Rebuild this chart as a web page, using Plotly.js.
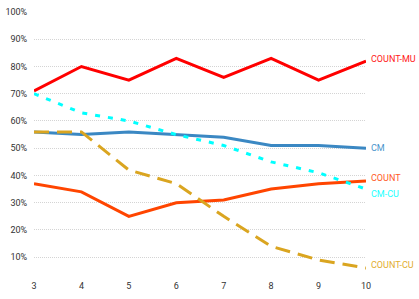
<!DOCTYPE html>
<html>
<head>
<meta charset="utf-8">
<script src="https://cdn.plot.ly/plotly-3.0.1.min.js"></script>
<style>html,body{margin:0;padding:0;background:#fff;}#chart{width:419px;height:299px;}</style>
</head>
<body>
<div id="chart"></div>
<script>
const xValues = [3, 4, 5, 6, 7, 8, 9, 10];
const seriesNames = ["COUNT-MU", "CM", "COUNT", "CM-CU", "COUNT-CU"];
const countMu = [0.71, 0.80, 0.75, 0.83, 0.76, 0.83, 0.75, 0.82];
const cm      = [0.56, 0.55, 0.56, 0.55, 0.54, 0.51, 0.51, 0.50];
const count   = [0.37, 0.34, 0.25, 0.30, 0.31, 0.35, 0.37, 0.38];
const cmCu    = [0.70, 0.63, 0.60, 0.55, 0.51, 0.45, 0.41, 0.35];
const countCu = [0.56, 0.56, 0.42, 0.37, 0.25, 0.14, 0.09, 0.06];
const yTickVals = [0.1, 0.2, 0.3, 0.4, 0.5, 0.6, 0.7, 0.8, 0.9, 1.0];

const seriesValues = [countMu, cm, count, cmCu, countCu];
const colors = ["#ff0000", "#3b88c3", "#ff4500", "#00ffff", "#daa520"];
const labelColors = ["#ff2020", "#4a94cc", "#ff5a1f", "#22ffff", "#e2ad30"];
const dashes = ["solid", "solid", "solid", "5px,8px", "15px,8px"];
const labelShift = [2, 0, 3, -5, 3];

const traces = seriesNames.map((name, i) => ({
  x: xValues, y: seriesValues[i], name: name, type: "scatter", mode: "lines",
  line: {color: colors[i], width: 3, dash: dashes[i]}, hoverinfo: "skip"
}));

const annotations = seriesNames.map((name, i) => ({
  x: xValues[xValues.length - 1], y: seriesValues[i][seriesValues[i].length - 1],
  xref: "x", yref: "y", text: name, showarrow: false, xanchor: "left", yanchor: "middle",
  xshift: 3, yshift: labelShift[i],
  font: {family: "Roboto, sans-serif", size: 9, color: labelColors[i]}
}));

const layout = {
  width: 419, height: 299,
  margin: {l: 34, r: 53, t: 12, b: 20, pad: 0},
  paper_bgcolor: "#fff", plot_bgcolor: "#fff",
  showlegend: false,
  font: {family: "Roboto, sans-serif", size: 9, color: "#333"},
  xaxis: {
    range: [3, 10], tickvals: xValues, showgrid: false, zeroline: false, showline: false,
    ticks: "", tickfont: {size: 9, color: "#333"}, fixedrange: true
  },
  yaxis: {
    range: [0.02, 1.0], tickvals: yTickVals, tickformat: ".0%",
    showgrid: true, gridcolor: "#d4d4d4", gridwidth: 1, griddash: "1px,1px",
    zeroline: false, showline: false, ticks: "outside", ticklen: 4, tickcolor: "rgba(0,0,0,0)",
    tickfont: {size: 9, color: "#333"}, fixedrange: true
  },
  annotations: annotations
};

Plotly.newPlot("chart", traces, layout, {staticPlot: true, displayModeBar: false});
</script>
</body>
</html>
